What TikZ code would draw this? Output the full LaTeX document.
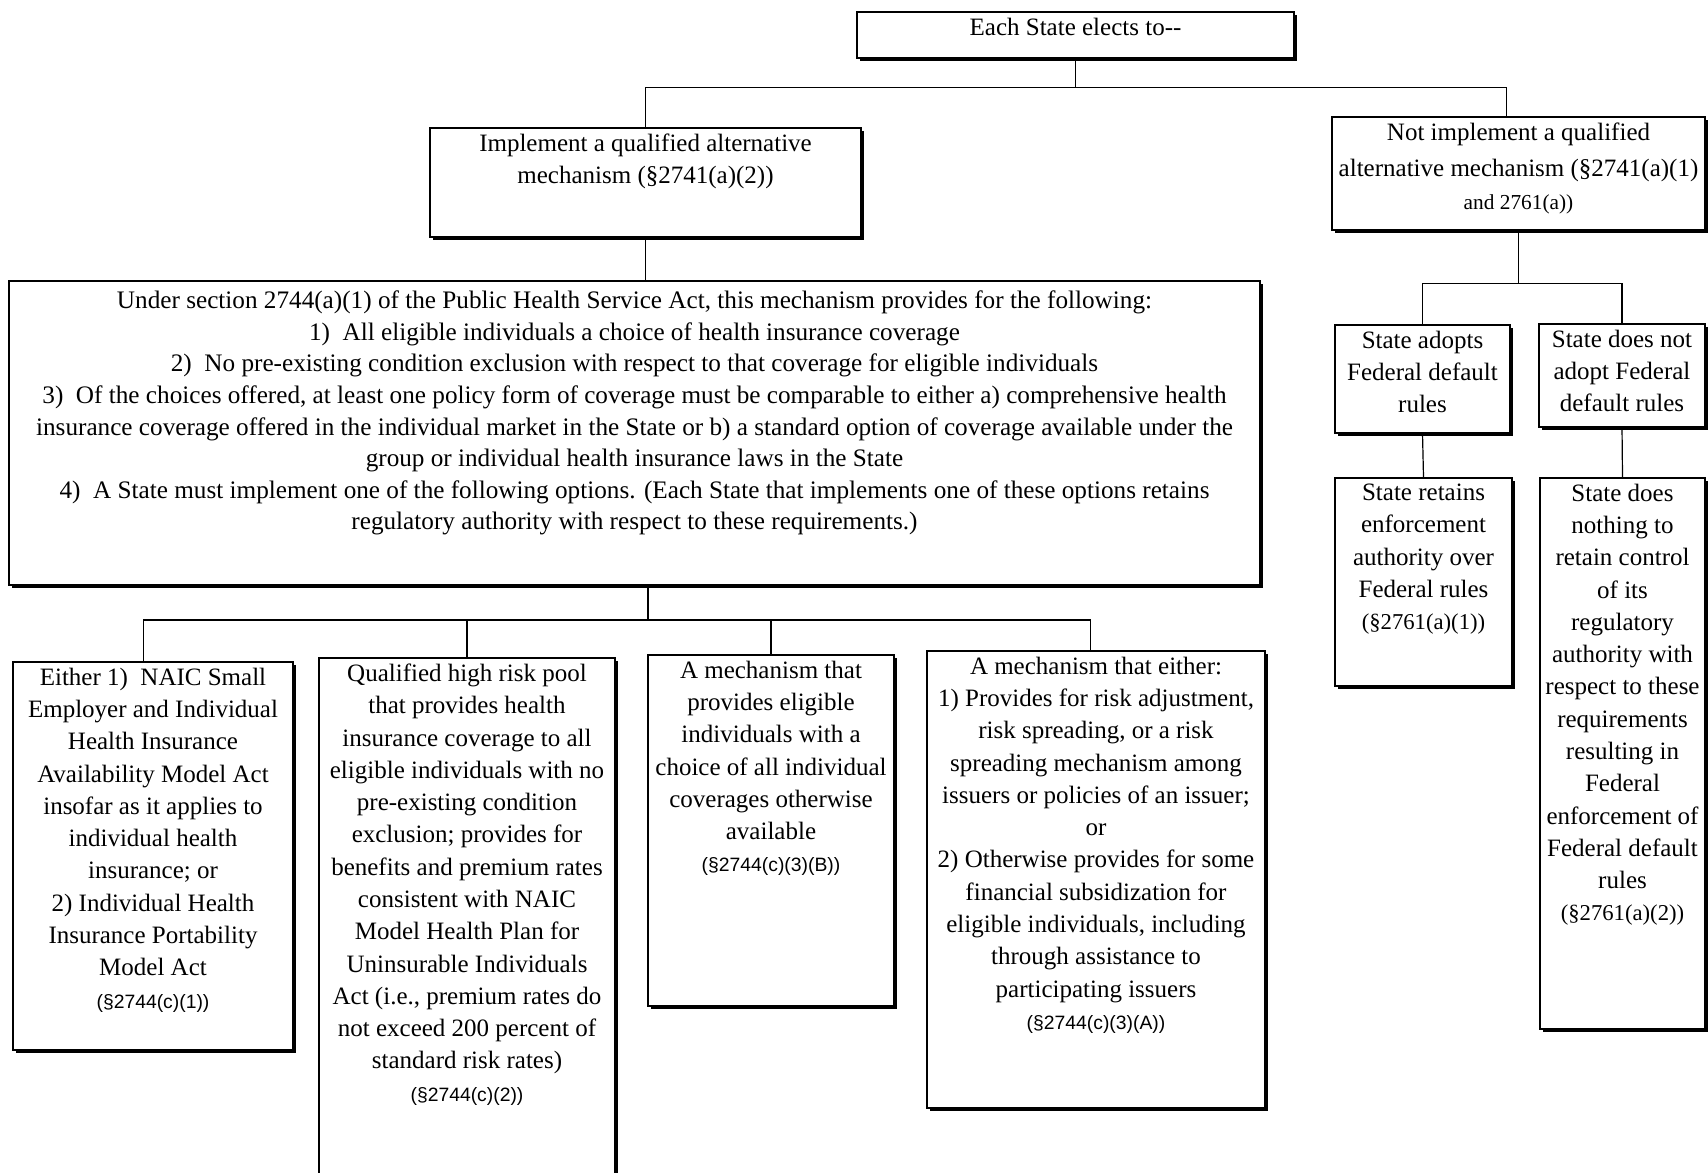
\documentclass[tikz,border=0pt]{standalone}
\usepackage{fontspec}
\setmainfont{Liberation Serif}
\setsansfont{Liberation Sans}
\usetikzlibrary{shadows,fit}

\newcommand{\secref}[1]{{\sffamily\fontsize{14.5}{17}\selectfont #1}}

\tikzset{
  box/.style={draw, fill=white, inner sep=0pt,
    drop shadow={shadow xshift=2.2pt, shadow yshift=-2.2pt, opacity=1, fill=black}},
  boxtext/.style={anchor=north, align=center, inner sep=0pt, yshift=-4.5pt,
    font=\fontsize{18.75}{24.2}\selectfont},
}

\begin{document}
\begin{tikzpicture}[x=0.75pt,y=0.75pt,yscale=-1,xscale=1,line width=0.9pt]
\useasboundingbox (0,0) rectangle (1708,1173);
\clip (0,0) rectangle (1708,1173);

% first choice
\node[box, fit={(857,12) (1294,58)}, label={[boxtext]north:{Each State elects to-{}-}}] (elect) {};
\node[box, fit={(430,128) (861,237)}, label={[boxtext]north:{Implement a qualified alternative\\ mechanism (§2741(a)(2))}}] (impl) {};
\node[box, fit={(1332,117) (1705,230)}, label={[boxtext]north:{Not implement a qualified\\[3pt] alternative mechanism (§2741(a)(1)\\ {\fontsize{16}{19}\selectfont and 2761(a))}}}] (notimpl) {};

% mechanism
\node[box, fit={(9,281) (1260,585)}, label={[boxtext, yshift=-3pt, font=\fontsize{18.9}{23.7}\selectfont]north:{Under section 2744(a)(1) of the Public Health Service Act, this mechanism provides for the following:\\
1)\enspace All eligible individuals a choice of health insurance coverage\\
2)\enspace No pre-existing condition exclusion with respect to that coverage for eligible individuals\\
3)\enspace Of the choices offered, at least one policy form of coverage must be comparable to either a) comprehensive health\\
insurance coverage offered in the individual market in the State or b) a standard option of coverage available under the\\
group or individual health insurance laws in the State\\
4)\enspace A State must implement one of the following options. (Each State that implements one of these options retains\\
regulatory authority with respect to these requirements.)}}] (main) {};

% options
\node[box, fit={(13,662) (293,1050)}, label={[boxtext]north:{Either 1)\enspace NAIC Small\\ Employer and Individual\\ Health Insurance\\ Availability Model Act\\ insofar as it applies to\\ individual health\\ insurance; or\\ 2) Individual Health\\ Insurance Portability\\ Model Act\\ \secref{(§2744(c)(1))}}}] (opt1) {};
\node[box, fit={(319,658) (615,1190)}, label={[boxtext]north:{Qualified high risk pool\\ that provides health\\ insurance coverage to all\\ eligible individuals with no\\ pre-existing condition\\ exclusion; provides for\\ benefits and premium rates\\ consistent with NAIC\\ Model Health Plan for\\ Uninsurable Individuals\\ Act (i.e., premium rates do\\ not exceed 200 percent of\\ standard risk rates)\\ \secref{(§2744(c)(2))}}}] (opt2) {};
\node[box, fit={(648,655) (894,1006)}, label={[boxtext]north:{A mechanism that\\ provides eligible\\ individuals with a\\ choice of all individual\\ coverages otherwise\\ available\\ \secref{(§2744(c)(3)(B))}}}] (opt3) {};
\node[box, fit={(927,651) (1265,1108)}, label={[boxtext]north:{A mechanism that either:\\ 1) Provides for risk adjustment,\\ risk spreading, or a risk\\ spreading mechanism among\\ issuers or policies of an issuer;\\ or\\ 2) Otherwise provides for some\\ financial subsidization for\\ eligible individuals, including\\ through assistance to\\ participating issuers\\ \secref{(§2744(c)(3)(A))}}}] (opt4) {};

% federal default
\node[box, fit={(1335,325) (1510,433)}, label={[boxtext]north:{State adopts\\ Federal default\\ rules}}] (adopt) {};
\node[box, fit={(1539,324) (1705,427)}, label={[boxtext]north:{State does not\\ adopt Federal\\ default rules}}] (noadopt) {};
\node[box, fit={(1335,478) (1512,686)}, label={[boxtext]north:{State retains\\ enforcement\\ authority over\\ Federal rules\\ {\fontsize{17}{20}\selectfont (§2761(a)(1))}}}] (retain) {};
\node[box, fit={(1540,478) (1705,1029)}, label={[boxtext]north:{State does\\ nothing to\\ retain control\\ of its\\ regulatory\\ authority with\\ respect to these\\ requirements\\ resulting in\\ Federal\\ enforcement of\\ Federal default\\ rules\\ {\fontsize{17}{20}\selectfont (§2761(a)(2))}}}] (nothing) {};

% connectors
\draw (elect.south) -- ++(0,29) coordinate (j1);
\draw (impl.north) |- (j1) -| ([xshift=-9pt]notimpl.north);
\draw (impl.south) -- (impl.south |- main.north);
\coordinate (j2) at (648,620);
\draw (j2 |- main.south) -- (j2);
\draw ([xshift=-7pt]opt1.north) |- (j2) -| ([xshift=-4pt]opt4.north);
\draw (opt2.north) -- (opt2.north |- j2);
\draw (opt3.north) -- (opt3.north |- j2);
\draw (notimpl.south) -- ++(0,53) coordinate (j3);
\draw (adopt.north) |- (j3) -| (noadopt.north);
\draw (adopt.south) -- (retain.north);
\draw (noadopt.south) -- (nothing.north);
\end{tikzpicture}
\end{document}
